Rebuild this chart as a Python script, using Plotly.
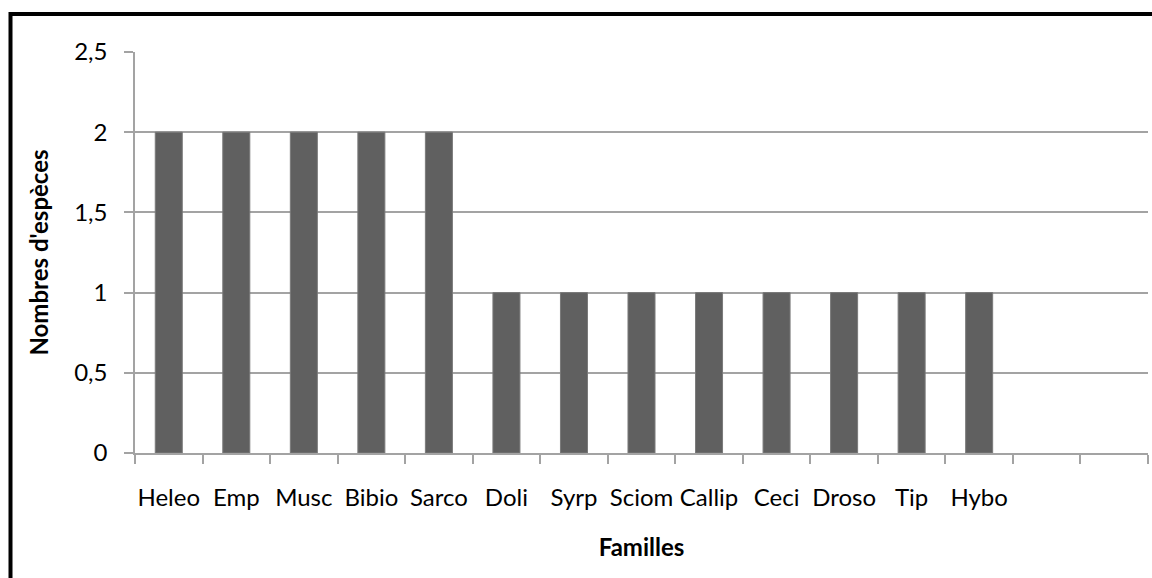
import plotly.graph_objects as go

# Diptera families and number of species recorded per family
familles = ["Heleo", "Emp", "Musc", "Bibio", "Sarco", "Doli", "Syrp",
            "Sciom", "Callip", "Ceci", "Droso", "Tip", "Hybo"]
nb_especes = [2, 2, 2, 2, 2, 1, 1, 1, 1, 1, 1, 1, 1]
# two trailing empty slots on the category axis
vides = ["", " "]

categories = familles + vides
valeurs = nb_especes + [None] * len(vides)

y_ticks = [0, 0.5, 1, 1.5, 2, 2.5]
y_ticktext = ["0", "0,5", "1", "1,5", "2", "2,5"]

FONT = "Lato"
GRID = "#a3a3a3"
FS = 24

fig = go.Figure(
    go.Bar(
        x=categories,
        y=valeurs,
        width=0.4,
        marker=dict(color="#606060", line=dict(color="#7a7a7a", width=1)),
    )
)

# plot-area geometry in pixels, used for the outer chart frame
W, H = 1152, 578
L, R, T, B = 135, 4, 52, 125
pw, ph = W - L - R, H - T - B

def px_x(px):
    return (px - L) / pw

def px_y(py):
    return (H - B - py) / ph

fig.add_shape(
    type="rect", xref="paper", yref="paper",
    x0=px_x(10.5), x1=px_x(1170), y0=px_y(600), y1=px_y(14),
    line=dict(color="black", width=4), layer="above",
)

fig.update_layout(
    width=W, height=H,
    margin=dict(l=L, r=R, t=T, b=B),
    paper_bgcolor="white", plot_bgcolor="white",
    showlegend=False,
    bargap=0.6,
    font=dict(family=FONT, size=FS, color="black"),
    xaxis=dict(
        type="category",
        categoryorder="array", categoryarray=categories,
        range=[-0.5, len(categories) - 0.5],
        tickson="boundaries",
        tickangle=0,
        ticks="outside", ticklen=9, tickwidth=1.5, tickcolor=GRID,
        showline=True, linecolor=GRID, linewidth=1.5,
        showgrid=False,
        ticklabelstandoff=22,
        tickfont=dict(family=FONT, size=FS),
        title=dict(text="<b>Familles</b>", font=dict(family=FONT, size=FS), standoff=30),
    ),
    yaxis=dict(
        range=[0, 2.5],
        tickvals=y_ticks, ticktext=y_ticktext,
        ticks="outside", ticklen=9, tickwidth=1.5, tickcolor=GRID,
        showline=True, linecolor=GRID, linewidth=1.5,
        showgrid=True, gridcolor=GRID, gridwidth=1.5,
        zeroline=False,
        ticklabelstandoff=12,
        tickfont=dict(family=FONT, size=FS),
        title=dict(text="<b>Nombres d'espèces</b>", font=dict(family=FONT, size=FS), standoff=19),
    ),
)

fig.write_html("out.html")
